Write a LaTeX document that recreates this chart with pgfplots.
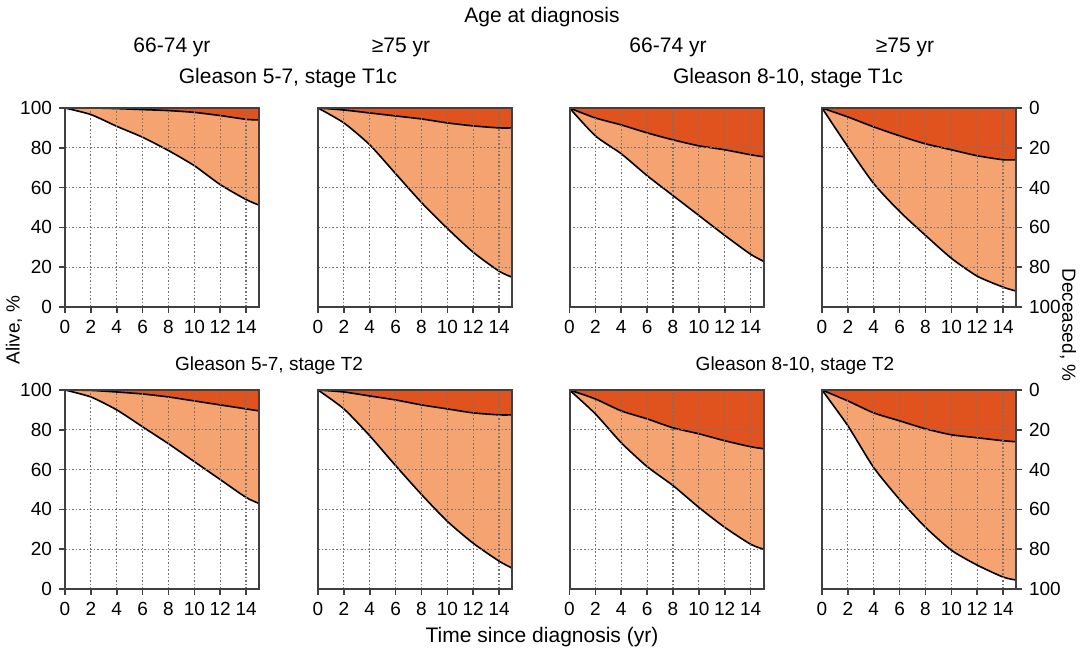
\documentclass[border=0pt]{standalone}
\usepackage{fontspec}
\setmainfont{Liberation Sans}
\usepackage{pgfplots}
\usepackage{pgfplotstable}
\pgfplotsset{compat=1.18}
\definecolor{darkor}{HTML}{E0521E}
\definecolor{lightor}{HTML}{F5A370}

% t = years since diagnosis, low = alive, up = alive + deceased (other causes)
\pgfplotstableread{
t low up
0 100 100
2 96.7 100
4 90.8 99.7
6 85.3 99.2
8 78.6 98.7
10 71 97.8
12 61.5 96.2
14 54 94.3
15 51.2 94
}\tabA
\pgfplotstableread{
t low up
0 100 100
2 92.5 99
4 81.5 97.5
6 67 96
8 52.5 94.5
10 39.5 92.5
12 27.5 91
14 18 90
15 15 90
}\tabB
\pgfplotstableread{
t low up
0 100 100
2 86 95
4 77 91.5
6 66 87.5
8 56 84
10 46 81
12 36 79
14 26.5 76.5
15 23 75.5
}\tabC
\pgfplotstableread{
t low up
0 100 100
2 80.5 95.5
4 62 90.5
6 48 86
8 36 82
10 24.5 79
12 15.5 76
14 10 74
15 8 74
}\tabD
\pgfplotstableread{
t low up
0 100 100
2 96.5 99.8
4 90 99
6 81.5 98
8 73 96.5
10 64 94.5
12 55 92.5
14 46 90.5
15 43 89.5
}\tabE
\pgfplotstableread{
t low up
0 100 100
2 90.5 99
4 77 97
6 62 95
8 47.5 92.5
10 34 90.5
12 23 88.5
14 14 87.5
15 10.5 87.5
}\tabF
\pgfplotstableread{
t low up
0 100 100
2 88 95.5
4 73.5 89.5
6 61.5 85.5
8 52 81
10 41 78
12 31 74.5
14 22.5 71.5
15 20 70.5
}\tabG
\pgfplotstableread{
t low up
0 100 100
2 82 94.5
4 61 88.5
6 45 84.5
8 31 80.5
10 19.5 77.5
12 12 76
14 6 74.5
15 4.5 74
}\tabH

\pgfplotsset{
  panel/.style={
    scale only axis, width=97pt, height=99.5pt,
    xmin=0, xmax=15, ymin=0, ymax=100,
    xtick={0,2,...,14}, ytick={0,20,...,100},
    grid=major,
    grid style={black!55, dash pattern=on 0.8pt off 1pt, line width=0.6pt},
    axis on top,
    axis line style={black!75, line width=1pt},
    tick style={black!75, line width=0.8pt},
    tick align=outside, major tick length=3pt,
    xtick pos=left,
    tick label style={font=\fontsize{9.5}{10}\selectfont},
    /pgf/number format/assume math mode=true,
    anchor=south west,
  },
  leftcol/.style={ytick pos=left},
  midcol/.style={yticklabels={}, ytick style={draw=none}},
  rightcol/.style={ytick pos=right, yticklabel pos=right,
    yticklabels={100,80,60,40,20,0}},
}

\newcommand{\panel}[4]{%
  \begin{axis}[panel, at={(#1,#2)}, #4]
    \addplot[fill=darkor, draw=none] coordinates {(0,100)(15,100)} \closedcycle;
    \addplot[fill=lightor, draw=none, smooth, tension=0.4] table[x=t,y=up]{#3} \closedcycle;
    \addplot[fill=white, draw=none, smooth, tension=0.4] table[x=t,y=low]{#3} \closedcycle;
    \addplot[black, line width=0.8pt, smooth, tension=0.4] table[x=t,y=up]{#3};
    \addplot[black, line width=0.8pt, smooth, tension=0.4] table[x=t,y=low]{#3};
  \end{axis}}

\begin{document}
\begin{tikzpicture}
\useasboundingbox (0,0) rectangle (541.5pt,327pt);

\panel{32.5pt}{173.5pt}{\tabA}{leftcol}
\panel{159pt}{173.5pt}{\tabB}{midcol}
\panel{284.75pt}{173.5pt}{\tabC}{midcol}
\panel{411pt}{173.5pt}{\tabD}{rightcol}
\panel{32.5pt}{32.5pt}{\tabE}{leftcol}
\panel{159pt}{32.5pt}{\tabF}{midcol}
\panel{284.75pt}{32.5pt}{\tabG}{midcol}
\panel{411pt}{32.5pt}{\tabH}{rightcol}

\node[font=\fontsize{10.5}{12}\selectfont] at (271pt,318.5pt) {Age at diagnosis};
\begin{scope}[every node/.style={font=\fontsize{10.5}{12}\selectfont}]
\node at (86pt,303.5pt) {66-74 yr};
\node at (200.5pt,303.5pt) {≥75 yr};
\node at (334pt,303.5pt) {66-74 yr};
\node at (452.5pt,303.5pt) {≥75 yr};
\node at (144pt,288pt) {Gleason 5-7, stage T1c};
\node at (394pt,288pt) {Gleason 8-10, stage T1c};
\end{scope}
\node[font=\fontsize{9.5}{11}\selectfont] at (134.5pt,144pt) {Gleason 5-7, stage T2};
\node[font=\fontsize{9.5}{11}\selectfont] at (397.5pt,144pt) {Gleason 8-10, stage T2};
\node[font=\fontsize{9.5}{11}\selectfont, rotate=90] at (7pt,162pt) {Alive, \%};
\node[font=\fontsize{9.5}{11}\selectfont, rotate=-90] at (534pt,164.5pt) {Deceased, \%};
\node[font=\fontsize{10.5}{12}\selectfont] at (271pt,8.5pt) {Time since diagnosis (yr)};
\end{tikzpicture}
\end{document}
